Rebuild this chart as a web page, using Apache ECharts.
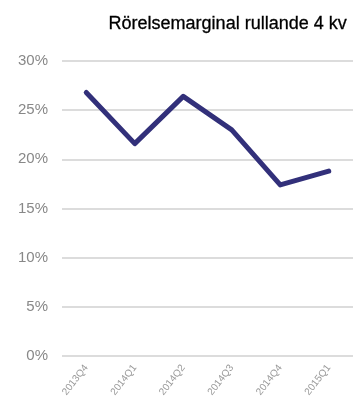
<!DOCTYPE html>
<html>
<head>
<meta charset="utf-8">
<script src="https://cdn.jsdelivr.net/npm/echarts@6/dist/echarts.min.js"></script>
<style>
  html, body { margin: 0; padding: 0; background: #fff; }
  #chart { width: 356px; height: 401px; }
</style>
</head>
<body>
<div id="chart"></div>
<script>
const quarters = ["2013Q4", "2014Q1", "2014Q2", "2014Q3", "2014Q4", "2015Q1"];
const margin = [26.8, 21.6, 26.4, 23.0, 17.4, 18.8];
const yTicks = [0, 5, 10, 15, 20, 25, 30];

const myChart = echarts.init(document.getElementById("chart"));
myChart.setOption({
  animation: false,
  title: {
    text: "Rörelsemarginal rullande 4 kv",
    right: 4,
    top: 10,
    textStyle: {
      fontFamily: "Liberation Sans",
      fontSize: 18,
      fontWeight: "normal",
      color: "#000",
      textBorderColor: "#000",
      textBorderWidth: 0.3
    }
  },
  grid: {
    top: 61,
    left: 62,
    right: 3,
    bottom: 45,
    containLabel: false
  },
  xAxis: {
    type: "category",
    data: quarters,
    axisLine: { show: false },
    axisTick: { show: false },
    axisLabel: {
      rotate: 52,
      color: "#999",
      fontSize: 10,
      fontFamily: "Liberation Sans",
      margin: 10
    }
  },
  yAxis: {
    type: "value",
    min: yTicks[0],
    max: yTicks[yTicks.length - 1],
    interval: 5,
    axisLine: { show: false },
    axisTick: { show: false },
    axisLabel: {
      formatter: "{value}%",
      color: "#888",
      fontSize: 15,
      fontFamily: "Liberation Sans",
      margin: 14
    },
    splitLine: { lineStyle: { color: "#dcdcdc", width: 2 } }
  },
  series: [
    {
      type: "line",
      data: margin,
      showSymbol: false,
      lineStyle: { width: 5, color: "#32307a", cap: "round", join: "round" }
    }
  ]
});
</script>
</body>
</html>
